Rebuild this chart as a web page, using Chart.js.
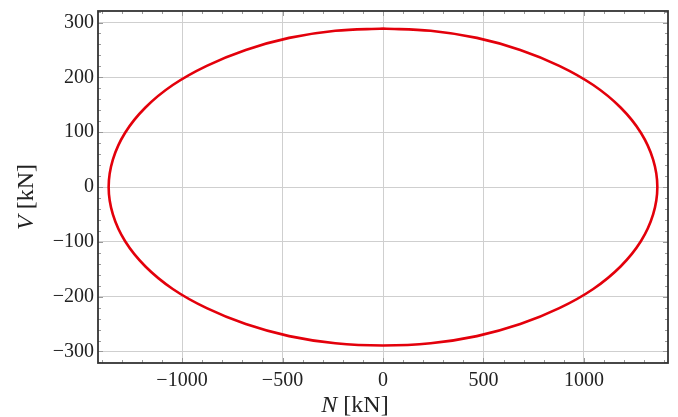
<!DOCTYPE html>
<html>
<head>
<meta charset="utf-8">
<script src="https://cdn.jsdelivr.net/npm/chart.js@4/dist/chart.umd.min.js"></script>
<style>
  body { margin: 0; background: #fff; }
  #wrap { width: 678px; height: 417px; }
</style>
</head>
<body>
<div id="wrap"><canvas id="chart" width="678" height="417"></canvas></div>
<script>
// interaction curve (N in kN, V in kN), going round from the top
const N = [0, 237, 467, 683, 877, 1046, 1182, 1283, 1344, 1365, 1344, 1283, 1182, 1046, 877, 683, 467, 237, 0,
  -237, -467, -683, -877, -1046, -1182, -1283, -1344, -1365, -1344, -1283, -1182, -1046, -877, -683, -467, -237, 0];
const V = [289, 285, 272, 250, 221, 186, 145, 99, 50, 0, -50, -99, -145, -186, -221, -250, -272, -285, -289,
  -285, -272, -250, -221, -186, -145, -99, -50, 0, 50, 99, 145, 186, 221, 250, 272, 285, 289];

const xTicks = [-1000, -500, 0, 500, 1000];
const yTicks = [-300, -200, -100, 0, 100, 200, 300];

const FONT = "'Liberation Serif', 'Times New Roman', serif";

const fmt = v => String(v).replace('-', '\u2212');

// frame with inward major/minor ticks, like the original
const framePlugin = {
  id: 'frame',
  afterDatasetsDraw(chart) {
    const { ctx, chartArea: a, scales } = chart;
    const xs = scales.x, ys = scales.y;
    ctx.save();
    ctx.strokeStyle = '#9a9a9a';
    ctx.lineWidth = 1;
    ctx.beginPath();
    for (let v = -1400; v <= 1400; v += 100) {
      const px = Math.round(xs.getPixelForValue(v)) + 0.5;
      const len = v % 500 === 0 ? 5 : 3;
      ctx.moveTo(px, a.bottom); ctx.lineTo(px, a.bottom - len);
      ctx.moveTo(px, a.top); ctx.lineTo(px, a.top + len);
    }
    for (let v = -320; v <= 320; v += 20) {
      const py = Math.round(ys.getPixelForValue(v)) + 0.5;
      const len = v % 100 === 0 ? 5 : 3;
      ctx.moveTo(a.left, py); ctx.lineTo(a.left + len, py);
      ctx.moveTo(a.right, py); ctx.lineTo(a.right - len, py);
    }
    ctx.stroke();
    ctx.strokeStyle = '#333';
    ctx.lineWidth = 1.8;
    ctx.strokeRect(a.left, a.top, a.right - a.left, a.bottom - a.top);
    ctx.restore();
  },
  afterDraw(chart) {
    const { ctx } = chart;
    const drawTitle = (sym, rest, x, y, rot) => {
      ctx.save();
      ctx.translate(x, y);
      ctx.rotate(rot);
      ctx.fillStyle = '#222';
      ctx.textBaseline = 'alphabetic';
      ctx.font = 'italic 24px ' + FONT;
      const w1 = ctx.measureText(sym).width;
      ctx.font = '24px ' + FONT;
      const w2 = ctx.measureText(rest).width;
      const x0 = -(w1 + w2) / 2;
      ctx.font = 'italic 24px ' + FONT;
      ctx.fillText(sym, x0, 0);
      ctx.font = '24px ' + FONT;
      ctx.fillText(rest, x0 + w1, 0);
      ctx.restore();
    };
    drawTitle('N', ' [kN]', 355, 412, 0);
    drawTitle('V', ' [kN]', 33, 197, -Math.PI / 2);
  }
};

new Chart(document.getElementById('chart'), {
  type: 'scatter',
  data: {
    datasets: [{
      label: 'interaction',
      data: N.map((n, i) => ({ x: n, y: V[i] })),
      showLine: true,
      borderColor: '#e3000b',
      borderWidth: 2.6,
      borderJoinStyle: 'round',
      pointRadius: 0,
      tension: 0.35,
      fill: false
    }]
  },
  options: {
    responsive: false,
    animation: false,
    layout: { padding: { top: 11, right: 10, left: 0, bottom: 0 } },
    plugins: {
      legend: { display: false },
      tooltip: { enabled: false }
    },
    scales: {
      x: {
        type: 'linear',
        min: -1418,
        max: 1418,
        afterBuildTicks: s => { s.ticks = xTicks.map(v => ({ value: v })); },
        afterFit: s => { s.height = 54; s.paddingLeft = 0; s.paddingRight = 0; },
        grid: { color: '#cfcfcf', lineWidth: 1, drawTicks: false },
        border: { display: false },
        ticks: { color: '#222', padding: 6, font: { family: FONT, size: 20 }, callback: fmt, maxRotation: 0 }
      },
      y: {
        type: 'linear',
        min: -321,
        max: 321,
        afterBuildTicks: s => { s.ticks = yTicks.map(v => ({ value: v })); },
        afterFit: s => { s.width = 98; s.paddingTop = 0; s.paddingBottom = 0; },
        grid: { color: '#cfcfcf', lineWidth: 1, drawTicks: false },
        border: { display: false },
        ticks: { color: '#222', padding: 4, font: { family: FONT, size: 20 }, callback: fmt }
      }
    }
  },
  plugins: [framePlugin]
});
</script>
</body>
</html>
